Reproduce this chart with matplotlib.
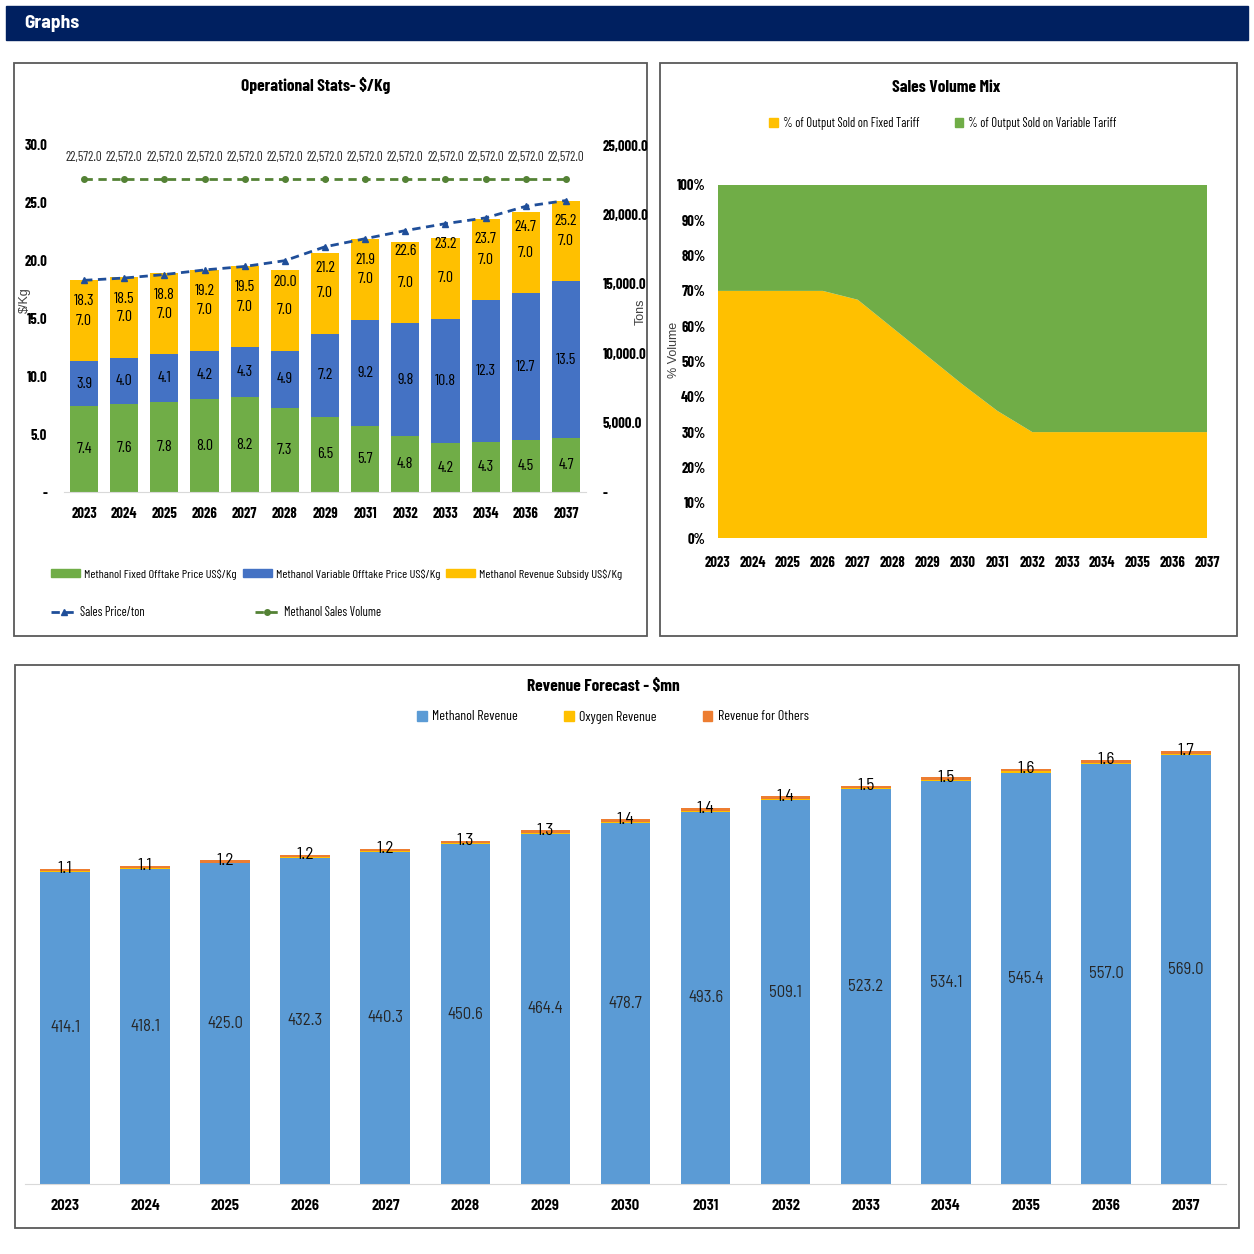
import matplotlib
matplotlib.use('Agg')
import matplotlib.pyplot as plt
import numpy as np
from matplotlib.patches import Rectangle, Patch
from matplotlib.lines import Line2D

plt.rcParams['font.family'] = ['Barlow Condensed', 'Roboto Condensed',
                               'Liberation Sans Narrow', 'DejaVu Sans']
SEMI = ['Barlow Semi Condensed', 'Roboto Condensed', 'DejaVu Sans']
ARIAL = ['Liberation Sans', 'DejaVu Sans']

# ---- data: operational stats ($/Kg) ----
ops_years = ['2023', '2024', '2025', '2026', '2027', '2028', '2029',
             '2031', '2032', '2033', '2034', '2036', '2037']
fixed_price = [7.4, 7.6, 7.8, 8.0, 8.2, 7.3, 6.5, 5.7, 4.8, 4.2, 4.3, 4.5, 4.7]
variable_price = [3.9, 4.0, 4.1, 4.2, 4.3, 4.9, 7.2, 9.2, 9.8, 10.8, 12.3, 12.7, 13.5]
subsidy = [7.0, 7.0, 7.0, 7.0, 7.0, 7.0, 7.0, 7.0, 7.0, 7.0, 7.0, 7.0, 7.0]
sales_price = [18.3, 18.5, 18.8, 19.2, 19.5, 20.0, 21.2, 21.9, 22.6, 23.2, 23.7, 24.7, 25.2]
sales_volume = [22572.0, 22572.0, 22572.0, 22572.0, 22572.0, 22572.0, 22572.0,
                22572.0, 22572.0, 22572.0, 22572.0, 22572.0, 22572.0]

# ---- data: sales volume mix (%) ----
mix_years = ['2023', '2024', '2025', '2026', '2027', '2028', '2029', '2030',
             '2031', '2032', '2033', '2034', '2035', '2036', '2037']
fixed_share = [70, 70, 70, 70, 67.5, 59.5, 51.5, 43.5, 36, 30, 30, 30, 30, 30, 30]
variable_share = [30, 30, 30, 30, 32.5, 40.5, 48.5, 56.5, 64, 70, 70, 70, 70, 70, 70]

# ---- data: revenue forecast ($mn) ----
rev_years = mix_years
methanol_rev = [414.1, 418.1, 425.0, 432.3, 440.3, 450.6, 464.4, 478.7,
                493.6, 509.1, 523.2, 534.1, 545.4, 557.0, 569.0]
oxygen_rev = [1.1, 1.1, 1.2, 1.2, 1.2, 1.3, 1.3, 1.4, 1.4, 1.4, 1.5, 1.5, 1.6, 1.6, 1.7]
others_rev = [2.9, 2.9, 3.0, 3.0, 3.1, 3.2, 3.3, 3.4, 3.5, 3.6, 3.7, 3.8, 3.9, 4.0, 4.1]

GREEN = '#70AD47'
BLUE = '#4472C4'
YELLOW = '#FFC000'
NAVY = '#1F4E99'
DKGREEN = '#548235'
LBLUE = '#5B9BD5'
ORANGE = '#ED7D31'

W = H = 1254


def fx(x):
    return x / W


def fy(y):
    return 1 - y / H


fig = plt.figure(figsize=(12.54, 12.54), dpi=100)

# header bar and panel frames
fig.add_artist(Rectangle((fx(6), fy(40)), 1242 / W, 34 / H, transform=fig.transFigure,
                         color='#002060', zorder=0))
fig.text(fx(24), fy(23), 'Graphs', color='white', fontweight='bold', fontsize=14,
         va='center', family=SEMI)
for x0, y0, x1, y1 in [(14, 63, 647, 636), (660, 63, 1237, 636), (15, 665, 1239, 1228)]:
    fig.add_artist(Rectangle((fx(x0), fy(y1)), (x1 - x0) / W, (y1 - y0) / H,
                             transform=fig.transFigure, fill=False,
                             edgecolor='#595959', lw=1.3, zorder=0))

# ================= Operational stats =================
ax1 = fig.add_axes([fx(64), fy(492), 522 / W, 347 / H])
x = np.arange(len(ops_years))
b1 = np.array(fixed_price)
b2 = b1 + np.array(variable_price)
ax1.bar(x, fixed_price, 0.7, color=GREEN)
ax1.bar(x, variable_price, 0.7, bottom=b1, color=BLUE)
ax1.bar(x, subsidy, 0.7, bottom=b2, color=YELLOW)
ax1.plot(x, sales_price, ls='--', dashes=(3, 2), color=NAVY, lw=2, marker='^', ms=5, zorder=5)
for i in range(len(x)):
    ax1.text(x[i], fixed_price[i] / 2, f'{fixed_price[i]:.1f}', ha='center', va='center', fontsize=11.5)
    ax1.text(x[i], b1[i] + variable_price[i] / 2, f'{variable_price[i]:.1f}', ha='center', va='center', fontsize=11.5)
    ax1.text(x[i], b2[i] + subsidy[i] / 2, f'{subsidy[i]:.1f}', ha='center', va='center', fontsize=11.5)
    ax1.annotate(f'{sales_price[i]:.1f}', (x[i], sales_price[i]), xytext=(0, -15),
                 textcoords='offset points', ha='center', va='center', fontsize=11.5)
ax1.set_xlim(-0.5, len(x) - 0.5)
ax1.set_ylim(0, 30)
ax1.set_yticks(np.arange(0, 31, 5))
ax1.set_yticklabels(['-' if v == 0 else f'{v:.1f}' for v in np.arange(0, 31, 5)])
ax1.set_xticks(x)
ax1.set_xticklabels(ops_years)

ax1r = ax1.twinx()
ax1r.plot(x, sales_volume, ls='--', dashes=(3, 2), color=DKGREEN, lw=2, marker='o', ms=4)
for i in range(len(x)):
    ax1r.annotate(f'{sales_volume[i]:,.1f}', (x[i], sales_volume[i]), xytext=(0, 15),
                  textcoords='offset points', ha='center', va='center', fontsize=9.5,
                  color='#262626')
ax1r.set_ylim(0, 25000)
ax1r.set_yticks(np.arange(0, 25001, 5000))
ax1r.set_yticklabels(['-' if v == 0 else f'{v:,.1f}' for v in np.arange(0, 25001, 5000)])

for a in (ax1, ax1r):
    for s in a.spines.values():
        s.set_visible(False)
    a.tick_params(length=0, labelsize=10.5)
    for lab in a.get_yticklabels() + a.get_xticklabels():
        lab.set_fontweight('bold')
ax1.spines['bottom'].set_visible(True)
ax1.spines['bottom'].set_color('#d9d9d9')
ax1.tick_params(axis='y', pad=12)
ax1.tick_params(axis='x', pad=11)
ax1r.tick_params(axis='y', pad=12)

fig.text(fx(316), fy(86), 'Operational Stats- $/Kg', ha='center', va='center',
         fontweight='bold', fontsize=12.5)
fig.text(fx(25), fy(300), '$/Kg', rotation=90, ha='center', va='center', fontsize=9,
         color='#404040', family=ARIAL)
fig.text(fx(641), fy(312), 'Tons', rotation=90, ha='center', va='center', fontsize=9,
         color='#404040', family=ARIAL)

h1 = [Patch(color=GREEN), Patch(color=BLUE), Patch(color=YELLOW)]
l1 = ['Methanol Fixed Offtake Price US$/Kg', 'Methanol Variable Offtake Price US$/Kg',
      'Methanol Revenue Subsidy US$/Kg']
fig.legend(h1, l1, loc='center left', bbox_to_anchor=(fx(40), fy(574)), ncol=3, frameon=False,
           fontsize=8.8, handlelength=2.4, handleheight=0.55, columnspacing=0.5, handletextpad=0.3)
h2 = [Line2D([], [], color=NAVY, ls='--', dashes=(3, 2), lw=2, marker='^', ms=5),
      Line2D([], [], color=DKGREEN, ls='--', dashes=(3, 2), lw=2, marker='o', ms=4)]
fig.legend(h2, ['Sales Price/ton', 'Methanol Sales Volume'], loc='center left',
           bbox_to_anchor=(fx(40), fy(613)), ncol=2, frameon=False, fontsize=9,
           handlelength=2.0, columnspacing=8.8, handletextpad=0.3)

# ================= Sales volume mix =================
ax2 = fig.add_axes([fx(718), fy(538), 489 / W, 353 / H])
xm = np.arange(len(mix_years))
ax2.stackplot(xm, fixed_share, variable_share, colors=[YELLOW, GREEN])
ax2.set_xlim(0, len(xm) - 1)
ax2.set_ylim(0, 100)
ax2.set_yticks(np.arange(0, 101, 10))
ax2.set_yticklabels([f'{v}%' for v in range(0, 101, 10)])
ax2.set_xticks(xm)
ax2.set_xticklabels(mix_years)
for s in ax2.spines.values():
    s.set_visible(False)
ax2.tick_params(length=0, labelsize=10.5)
ax2.tick_params(axis='y', pad=9)
ax2.tick_params(axis='x', pad=13)
for lab in ax2.get_yticklabels() + ax2.get_xticklabels():
    lab.set_fontweight('bold')

fig.text(fx(946), fy(87), 'Sales Volume Mix', ha='center', va='center',
         fontweight='bold', fontsize=12.5)
fig.text(fx(674), fy(350), '% Volume', rotation=90, ha='center', va='center', fontsize=9,
         color='#404040', family=ARIAL)
fig.legend([Patch(color=YELLOW), Patch(color=GREEN)],
           ['% of Output Sold on Fixed Tariff', '% of Output Sold on Variable Tariff'],
           loc='center', bbox_to_anchor=(fx(943), fy(123)), ncol=2, frameon=False, fontsize=9,
           handlelength=0.7, handleheight=0.7, columnspacing=2.8, handletextpad=0.4)

# ================= Revenue forecast =================
ax3 = fig.add_axes([fx(25), fy(1184), 1201 / W, 454 / H])
xr = np.arange(len(rev_years))
m = np.array(methanol_rev)
o = np.array(oxygen_rev)
ax3.bar(xr, methanol_rev, 0.62, color=LBLUE)
ax3.bar(xr, oxygen_rev, 0.62, bottom=m, color=YELLOW)
ax3.bar(xr, others_rev, 0.62, bottom=m + o, color=ORANGE)
for i in range(len(xr)):
    ax3.text(xr[i], methanol_rev[i] / 2, f'{methanol_rev[i]:.1f}', ha='center', va='center',
             fontsize=12, color='#262626', family=SEMI)
    ax3.text(xr[i], methanol_rev[i] + oxygen_rev[i] + others_rev[i], f'{oxygen_rev[i]:.1f}',
             ha='center', va='center', fontsize=12.5, family=SEMI)
ax3.set_xlim(-0.5, len(xr) - 0.5)
ax3.set_ylim(0, 602)
ax3.set_yticks([])
ax3.set_xticks(xr)
ax3.set_xticklabels(rev_years)
for s in ax3.spines.values():
    s.set_visible(False)
ax3.spines['bottom'].set_visible(True)
ax3.spines['bottom'].set_color('#d9d9d9')
ax3.tick_params(length=0, pad=11)
for lab in ax3.get_xticklabels():
    lab.set_fontweight('bold')
    lab.set_fontsize(10.5)
    lab.set_family(SEMI)

fig.text(fx(603), fy(686), 'Revenue Forecast - $mn', ha='center', va='center',
         fontweight='bold', fontsize=12.5)
fig.legend([Patch(color=LBLUE), Patch(color=YELLOW), Patch(color=ORANGE)],
           ['Methanol Revenue', 'Oxygen Revenue', 'Revenue for Others'],
           loc='center', bbox_to_anchor=(fx(613), fy(717)), ncol=3, frameon=False, fontsize=10,
           handlelength=0.7, handleheight=0.7, columnspacing=3.3, handletextpad=0.4)

fig.savefig('out.png', dpi=100, facecolor='white')
